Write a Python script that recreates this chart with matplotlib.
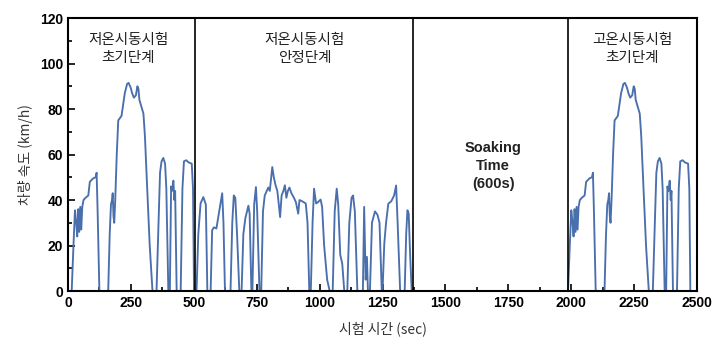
import numpy as np
import matplotlib.pyplot as plt
from matplotlib.ticker import MultipleLocator

# cold start, transient phase (0-505 s)
cold_t = [0, 15, 22, 28, 33, 37, 41, 45, 49, 53, 57, 62, 70, 81, 87, 100, 110, 114, 118, 125,
          160, 166, 171, 175, 178, 181, 184, 188, 194, 200, 213, 226, 235, 241, 249, 255, 262,
          270, 276, 280, 284, 292, 300, 306, 315, 325, 336, 352, 360, 366, 372, 379, 386, 391,
          399, 405, 410, 414, 419, 423, 426, 432, 448, 455, 461, 470, 480, 492, 497, 501, 505]
cold_v = [0, 0, 20, 35.5, 30, 24, 36, 26, 37, 27, 37, 40, 41, 42, 48, 49.5, 50, 52, 35, 0,
          0, 25, 38, 40, 43, 33, 30, 40, 60, 75, 77, 87, 91, 91.5, 89.5, 87, 85,
          86, 90, 89, 84, 81, 78, 68, 45, 20, 0, 0, 30, 52, 57, 58.5, 56, 45,
          0, 0, 46, 44, 48.5, 40, 44, 0, 0, 45, 57, 57.5, 56.5, 56, 45, 0, 0]

# cold start, stabilized phase (505-1372 s)
stab_t = [505, 511, 518, 527, 538, 548, 554, 567, 573, 580, 590, 604, 613, 618, 624,
          646, 653, 659, 665, 672, 681, 690, 697, 705, 717, 722, 729, 733, 740, 747, 752, 761,
          768, 775, 782, 790, 796, 802, 812, 818, 825, 832, 838, 843, 849, 856, 862, 868, 874,
          880, 888, 898, 906, 915, 920, 930, 945, 952, 959, 965, 972, 978, 986, 993, 1004,
          1010, 1018, 1030, 1040, 1052, 1060, 1068, 1074, 1082, 1090, 1098, 1110, 1118, 1127,
          1133, 1140, 1150, 1172, 1177, 1183, 1188, 1192, 1200, 1208, 1220, 1230, 1238, 1247,
          1250, 1257, 1264, 1273, 1285, 1296, 1304, 1310, 1320, 1338, 1344, 1349, 1354, 1360,
          1366, 1372]
stab_v = [0, 0, 25, 38.5, 41.3, 38, 0, 0, 26.7, 28, 27.5, 37, 43, 30, 0,
          0, 30, 42, 41, 25, 0, 0, 25, 32, 37.5, 34, 0, 0, 38, 45.7, 35, 0,
          0, 35, 42, 44, 45.5, 44, 54.5, 50, 46.5, 44, 38, 32.5, 42, 44, 46.5, 41, 44,
          45.5, 43, 41, 39, 34, 40, 39.5, 38.5, 30, 0, 0, 30, 45, 38.5, 39, 40.2,
          37, 20, 5, 0, 0, 35, 45, 38, 16, 12, 0, 0, 30, 41,
          42, 35, 0, 0, 37, 5, 15, 0, 0, 30, 35, 33.5, 30, 0,
          0, 20.8, 30, 38.4, 39.5, 42, 46.4, 30, 0, 0, 25, 35.5, 34, 15,
          0, 0]

# soak, then hot start repeats the transient phase
hot_offset = 1972
dividers = [505, 1372, 1985]

labels = ["저온시동시험\n초기단계", "저온시동시험\n안정단계", "고온시동시험\n초기단계"]
label_x = [240, 942, 2241]

kr = ['Noto Sans CJK KR', 'DejaVu Sans']
plt.rcParams['font.family'] = ['Liberation Sans', 'DejaVu Sans']

fig = plt.figure(figsize=(7.15, 3.4), dpi=100)
ax = fig.add_axes([0.095, 0.144, 0.88, 0.803])

col = '#4a6fad'
ax.plot(cold_t, cold_v, color=col, lw=1.35)
ax.plot(stab_t, stab_v, color=col, lw=1.35)
ax.plot([1372, hot_offset], [0, 0], color=col, lw=1.35)
ax.plot(np.array(cold_t) + hot_offset, cold_v, color=col, lw=1.35)

for d in dividers:
    ax.axvline(d, color='black', lw=1.2)

for x, s in zip(label_x, labels):
    ax.text(x, 106.5, s, ha='center', va='center', fontsize=10.5, family=kr,
            color='#222222', linespacing=1.4)

ax.text(1690, 55, "Soaking\nTime\n(600s)", ha='center', va='center', fontsize=10.5,
        fontweight='bold', color='#222222', linespacing=1.35)

ax.set_xlim(0, 2500)
ax.set_ylim(0, 120)
ax.xaxis.set_major_locator(MultipleLocator(250))
ax.xaxis.set_minor_locator(MultipleLocator(125))
ax.yaxis.set_major_locator(MultipleLocator(20))
ax.yaxis.set_minor_locator(MultipleLocator(10))
ax.tick_params(which='both', direction='in', width=1.2)
ax.tick_params(which='major', length=5, labelsize=10)
ax.tick_params(which='minor', length=3)
for lab in ax.get_xticklabels() + ax.get_yticklabels():
    lab.set_fontweight('bold')
for sp in ax.spines.values():
    sp.set_linewidth(1.5)

ax.set_xlabel("시험 시간 (sec)", family=kr, fontsize=10, color='#333333', labelpad=8)
ax.set_ylabel("차량 속도 (km/h)", family=kr, fontsize=10, color='#333333', labelpad=5)

fig.savefig("out.png", dpi=100)
